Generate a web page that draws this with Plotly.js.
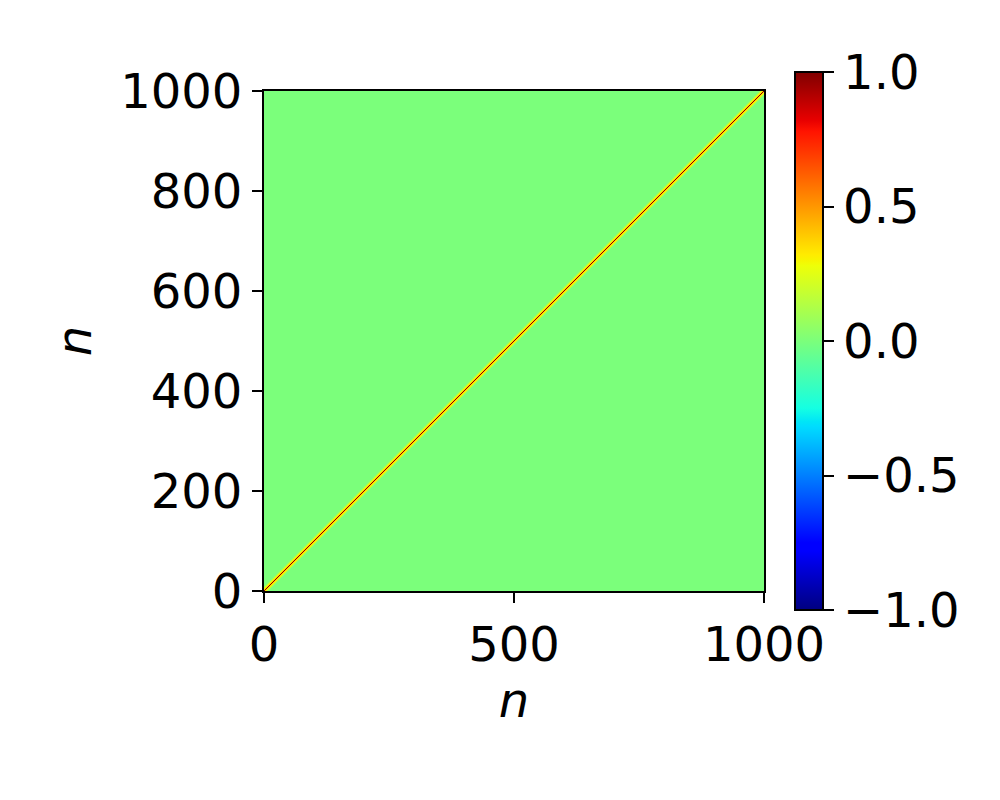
<!DOCTYPE html>
<html>
<head>
<meta charset="utf-8">
<script src="https://cdn.plot.ly/plotly-3.0.1.min.js"></script>
<style>html,body{margin:0;padding:0;background:#fff;}#chart{width:1000px;height:800px;}</style>
</head>
<body>
<div id="chart"></div>
<script>
// Matrix index axis (bins of 2 samples, centres), n = 0..1000
const binStart = 0;
const binWidth = 2;
const binCount = 500;
// Correlation versus distance from the diagonal (in bins)
const diagOffsets = [0, 1, 2, 3, 4];
const diagValues = [1.0, 0.38, 0.3, 0.15, 0.05];
const backgroundValue = 0.0;
// Tick labels
const xTicks = [0, 500, 1000];
const yTicks = [0, 200, 400, 600, 800, 1000];
const cbTicks = [-1.0, -0.5, 0.0, 0.5, 1.0];

const centres = [];
for (let i = 0; i < binCount; i++) centres.push(binStart + binWidth * i + binWidth / 2);
const profile = {};
diagOffsets.forEach((o, k) => profile[o] = diagValues[k]);
const z = [];
for (let r = 0; r < binCount; r++) {
  const row = new Array(binCount);
  for (let c = 0; c < binCount; c++) {
    const d = Math.abs(r - c);
    row[c] = (d in profile) ? profile[d] : backgroundValue;
  }
  z.push(row);
}

// matplotlib "jet"
const jet = [
  [0, 'rgb(0,0,128)'], [0.11, 'rgb(0,0,255)'], [0.125, 'rgb(0,0,255)'],
  [0.34, 'rgb(0,219,255)'], [0.35, 'rgb(0,229,247)'], [0.375, 'rgb(21,255,226)'],
  [0.64, 'rgb(238,255,8)'], [0.65, 'rgb(247,245,0)'], [0.66, 'rgb(255,236,0)'],
  [0.89, 'rgb(255,19,0)'], [0.91, 'rgb(232,0,0)'], [1, 'rgb(128,0,0)']
];

const font = {family: 'DejaVu Sans', size: 48, color: '#000'};

const trace = {
  type: 'heatmap',
  x: centres, y: centres, z: z,
  zmin: -1, zmax: 1,
  colorscale: jet,
  zsmooth: 'fast',
  hoverinfo: 'skip',
  colorbar: {
    thickness: 28, thicknessmode: 'pixels',
    len: 538, lenmode: 'pixels',
    x: 1.062, xanchor: 'left', xpad: 0,
    y: 0.5, yanchor: 'middle', ypad: 0,
    outlinewidth: 2, outlinecolor: '#000',
    ticks: 'outside', ticklen: 10, tickwidth: 2, tickcolor: '#000',
    tickvals: cbTicks, ticktext: cbTicks.map(v => (v < 0 ? '\u2212' : '') + Math.abs(v).toFixed(1)),
    tickfont: font
  }
};

const axisCommon = {
  showline: true, linewidth: 2, linecolor: '#000', mirror: true,
  ticks: 'outside', ticklen: 10, tickwidth: 2, tickcolor: '#000',
  showgrid: false, zeroline: false, tickfont: font
};

const layout = {
  width: 1000, height: 800,
  paper_bgcolor: '#fff', plot_bgcolor: '#fff',
  margin: {l: 264, r: 236, t: 91, b: 209},
  font: font,
  xaxis: Object.assign({}, axisCommon, {
    range: [0, 1000], tickvals: xTicks, ticktext: xTicks.map(String),
    title: {text: '<i>n</i>', font: font, standoff: 8}
  }),
  yaxis: Object.assign({}, axisCommon, {
    range: [0, 1000], tickvals: yTicks, ticktext: yTicks.map(String),
    title: {text: '<i>n</i>', font: font, standoff: 13}
  })
};

Plotly.newPlot('chart', [trace], layout, {displayModeBar: false, staticPlot: true});
</script>
</body>
</html>
